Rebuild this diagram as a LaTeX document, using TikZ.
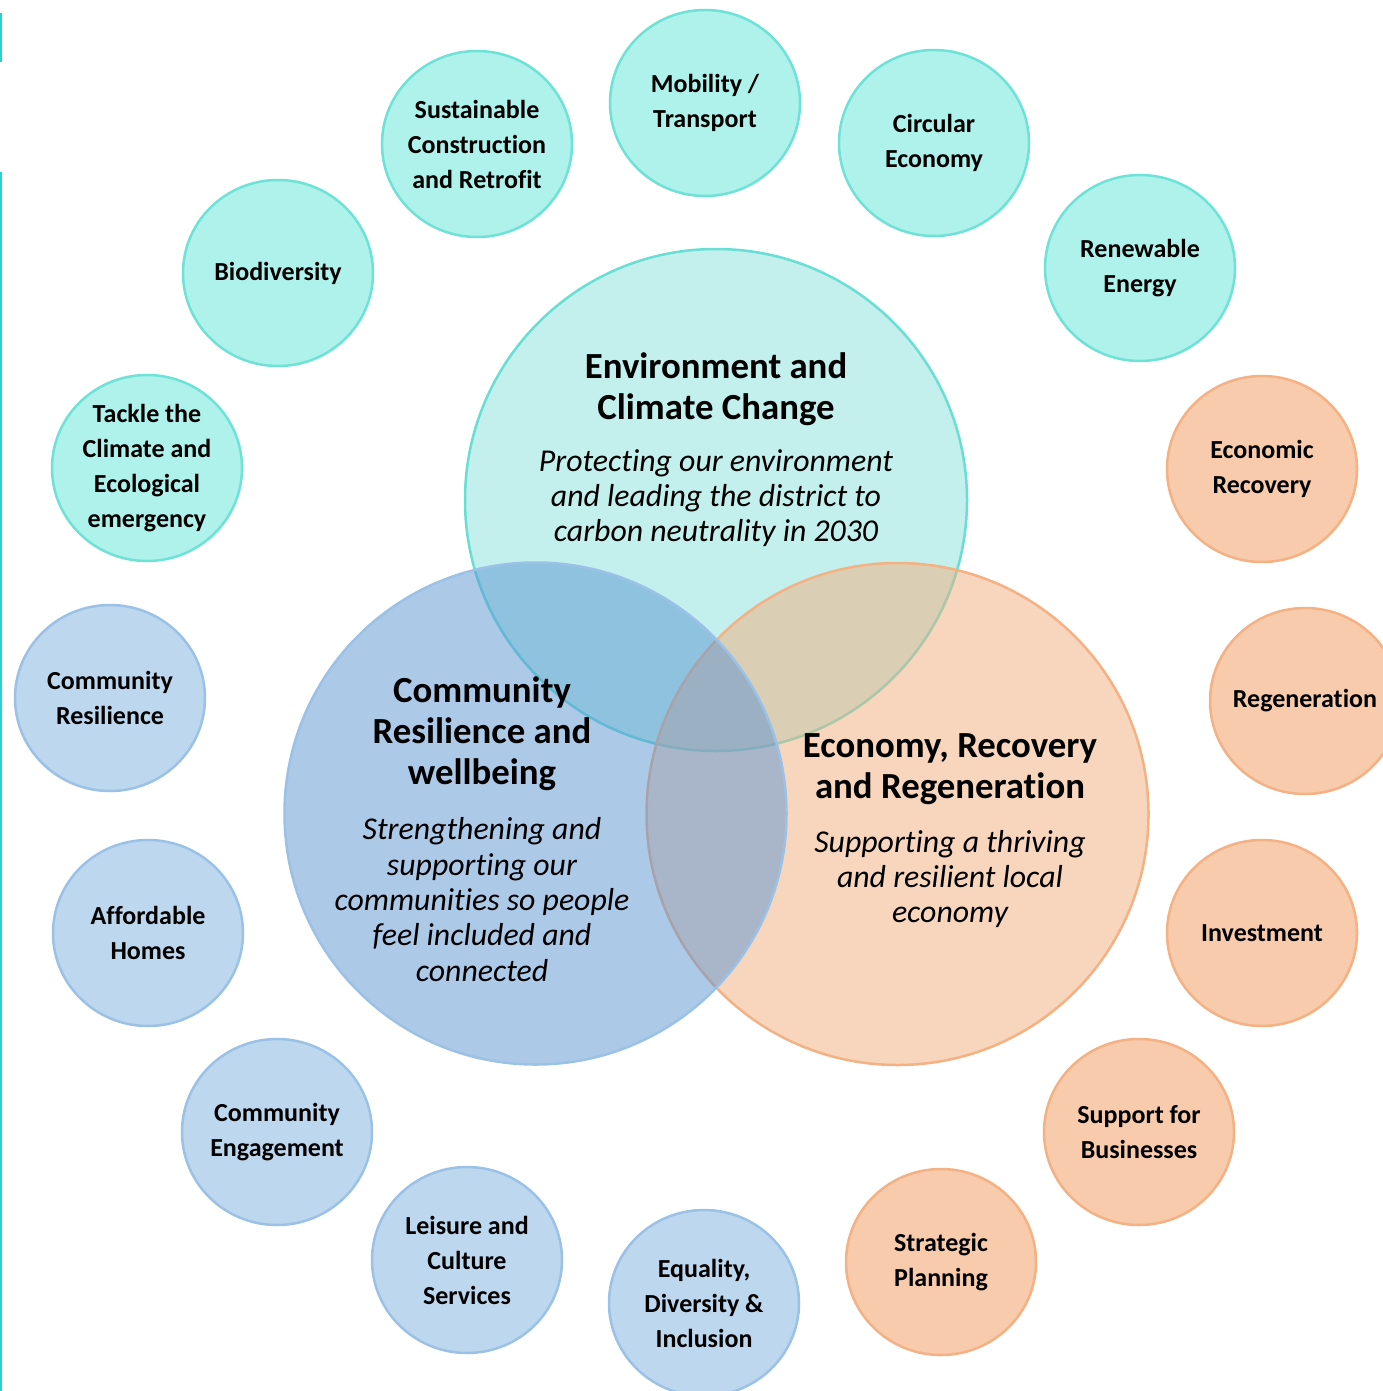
\documentclass[tikz,border=0pt]{standalone}
\usepackage{fontspec}
\setmainfont{Carlito}[Ligatures=NoCommon]
\usetikzlibrary{shapes.geometric}
\definecolor{envfill}{RGB}{137,226,221}
\definecolor{envline}{RGB}{104,222,212}
\definecolor{econfill}{RGB}{241,175,125}
\definecolor{econline}{RGB}{244,177,131}
\definecolor{commfill}{RGB}{93,149,211}
\definecolor{commline}{RGB}{155,194,230}
\definecolor{tfill}{RGB}{174,242,235}
\definecolor{tline}{RGB}{110,226,214}
\definecolor{bfill}{RGB}{189,215,238}
\definecolor{bline}{RGB}{155,194,230}
\definecolor{ofill}{RGB}{248,203,173}
\definecolor{oline}{RGB}{244,177,131}
\definecolor{edgeline}{RGB}{40,210,210}
\tikzset{
  small/.style={ellipse, minimum width=190pt, minimum height=186pt, inner sep=-28pt,
    line width=2.5pt, align=center, font=\fontsize{26}{35}\selectfont\bfseries},
  tsmall/.style={small, draw=tline, fill=tfill},
  bsmall/.style={small, draw=bline, fill=bfill},
  osmall/.style={small, draw=oline, fill=ofill},
  big/.style={circle, minimum size=502pt, inner sep=0pt, line width=2.5pt, fill opacity=0.5},
  bigtitle/.style={align=center, font=\fontsize{36.8}{41}\selectfont\bfseries, inner sep=0pt},
  bigsub/.style={align=center, font=\fontsize{31.8}{35.3}\selectfont\itshape, inner sep=0pt},
}
\begin{document}
\begin{tikzpicture}[x=1pt,y=-1pt]
\useasboundingbox (0,0) rectangle (1382,1391);
\fill[white] (0,0) rectangle (1382,1391);
% left edge marks
\fill[edgeline] (0,13) rectangle (2,62);
\fill[edgeline] (0,172) rectangle (2,1391);
% big circles
\node[big, draw=envline, fill=envfill] (env) at (716,500) {};
\node[big, draw=econline, fill=econfill] (econ) at (897.5,814) {};
\node[big, draw=commline, fill=commfill] (comm) at (535.5,813.5) {};
% big texts
\node[bigtitle] (envt) at (716,389.5) {Environment and\\Climate Change};
\node[bigsub] (envs) at (716,498) {Protecting our environment\\and leading the district to\\carbon neutrality in 2030};
\node[bigtitle] (commt) at (482,734) {Community\\Resilience and\\wellbeing};
\node[bigsub] (comms) at (482,899.5) {Strengthening and\\supporting our\\communities so people\\feel included and\\connected};
\node[bigtitle] (econt) at (950,769.5) {Economy, Recovery\\and Regeneration};
\node[bigsub] (econs) at (950,879) {Supporting a thriving\\and resilient local\\economy};
% small circles
\node[tsmall] (scr) at (477,144) {Sustainable\\Construction\\and Retrofit};
\node[tsmall] (mob) at (705,103) {Mobility /\\Transport};
\node[tsmall] (circ) at (934,143) {Circular\\Economy};
\node[tsmall] (ren) at (1140,268) {Renewable\\Energy};
\node[osmall] (ecr) at (1262,469) {Economic\\Recovery};
\node[osmall] (reg) at (1305,701) {Regeneration};
\node[osmall] (inv) at (1262,933) {Investment};
\node[osmall] (sup) at (1139,1132) {Support for\\Businesses};
\node[osmall] (strat) at (941,1262) {Strategic\\Planning};
\node[bsmall] (edi) at (704,1303) {Equality,\\Diversity \&\\Inclusion};
\node[bsmall] (lei) at (467,1260) {Leisure and\\Culture\\Services};
\node[bsmall] (ceng) at (277,1132) {Community\\Engagement};
\node[bsmall] (aff) at (148,933) {Affordable\\Homes};
\node[bsmall] (cres) at (110,698) {Community\\Resilience};
\node[tsmall] (tack) at (147,468) {Tackle the\\Climate and\\Ecological\\emergency};
\node[tsmall] (bio) at (278,273) {Biodiversity};
\end{tikzpicture}
\end{document}
